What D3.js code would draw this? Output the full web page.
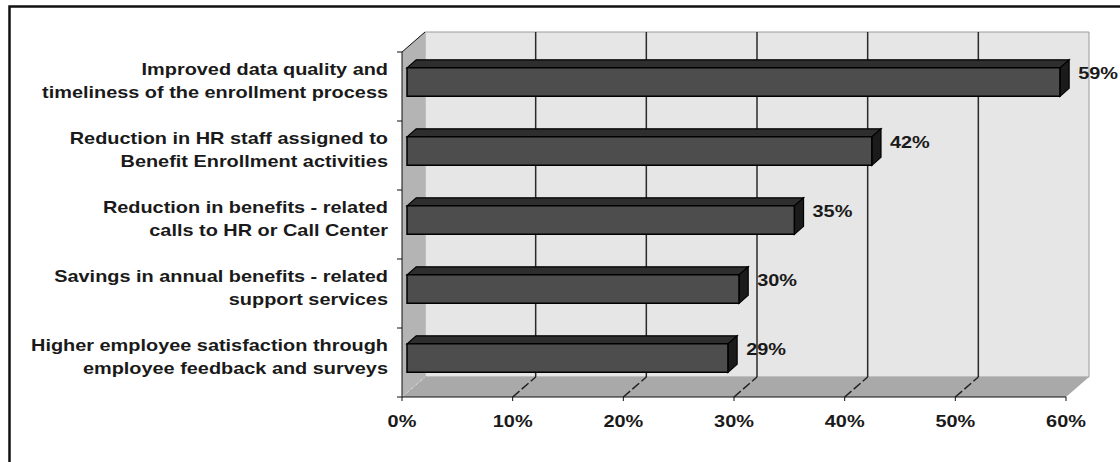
<!DOCTYPE html>
<html>
<head>
<meta charset="utf-8">
<script src="https://cdn.jsdelivr.net/npm/d3@7"></script>
<style>
  body { margin: 0; background: #fff; }
  svg text { font-family: "Liberation Sans", Arial, sans-serif; font-weight: bold; fill: #1a1a1a; }
</style>
</head>
<body>
<div id="chart"></div>
<script>
// data
var categories = [
  ["Improved data quality and", "timeliness of the enrollment process"],
  ["Reduction in HR staff assigned to", "Benefit Enrollment activities"],
  ["Reduction in benefits - related", "calls to HR or Call Center"],
  ["Savings in annual benefits - related", "support services"],
  ["Higher employee satisfaction through", "employee feedback and surveys"]
]
var values = [59, 42, 35, 30, 29]
var xTicks = [0, 10, 20, 30, 40, 50, 60]

var width = 1120, height = 462
var svg = d3.select('#chart').append('svg').attr('width', width).attr('height', height)

// outer frame (left + top only)
svg.append('path').attr('d', 'M9.5,462 L9.5,6.5 L1120,6.5')
  .attr('fill', 'none').attr('stroke', '#111').attr('stroke-width', 2.5)

var plotTop = 52, plotBottom = 397
var x = d3.scaleLinear().domain([0, 60]).range([402, 1066])
var y = d3.scaleBand().domain(d3.range(categories.length)).range([plotTop, plotBottom])
var dx = 23, dy = -20 // depth of the box
var bdx0 = 5, bdy0 = -4.4 // bar front plane offset
var bdx = 9.2, bdy = -8 // bar depth
var barH = 28.5
var sx = 1.17 // horizontal stretch of the text

function poly(pts){ return 'M' + pts.map(function(p){ return p.join(',') }).join('L') + 'Z' }

var x0 = x(0), x1 = x(60)
// back wall
svg.append('path').attr('d', poly([[x0+dx, plotTop+dy], [x1+dx, plotTop+dy], [x1+dx, plotBottom+dy], [x0+dx, plotBottom+dy]]))
  .attr('fill', '#e6e6e6').attr('stroke', '#9a9a9a').attr('stroke-width', 1)
// side wall
svg.append('path').attr('d', poly([[x0, plotTop], [x0+dx, plotTop+dy], [x0+dx, plotBottom+dy], [x0, plotBottom]]))
  .attr('fill', '#b4b4b4').attr('stroke', 'none')
// floor
svg.append('path').attr('d', poly([[x0, plotBottom], [x0+dx, plotBottom+dy], [x1+dx, plotBottom+dy], [x1, plotBottom]]))
  .attr('fill', '#a9a9a9').attr('stroke', 'none')

// gridlines on back wall
svg.selectAll('.grid').data(xTicks.slice(1, -1)).enter().append('line')
  .attr('x1', function(d){ return x(d)+dx }).attr('x2', function(d){ return x(d)+dx })
  .attr('y1', plotTop+dy).attr('y2', plotBottom+dy)
  .attr('stroke', '#2a2a2a').attr('stroke-width', 1.5)
// diagonals on floor
svg.selectAll('.fdiag').data(xTicks.slice(1, -1)).enter().append('line')
  .attr('x1', function(d){ return x(d) }).attr('y1', plotBottom)
  .attr('x2', function(d){ return x(d)+dx }).attr('y2', plotBottom+dy)
  .attr('stroke', '#222').attr('stroke-width', 1.5).attr('stroke-dasharray', '9,3')
svg.append('line').attr('x1', x0).attr('y1', plotBottom).attr('x2', x0+dx).attr('y2', plotBottom+dy)
  .attr('stroke', '#d8d8d8').attr('stroke-width', 1).attr('stroke-dasharray', '3,3')

// axes
svg.append('line').attr('x1', x0).attr('x2', x1).attr('y1', plotBottom).attr('y2', plotBottom).attr('stroke', '#111')
svg.append('line').attr('x1', x0).attr('x2', x0).attr('y1', plotTop).attr('y2', plotBottom).attr('stroke', '#111')
svg.append('line').attr('x1', x0).attr('y1', plotTop).attr('x2', x0+dx).attr('y2', plotTop+dy).attr('stroke', '#111')
svg.selectAll('.xt').data(xTicks).enter().append('line')
  .attr('x1', function(d){ return x(d) }).attr('x2', function(d){ return x(d) })
  .attr('y1', plotBottom).attr('y2', plotBottom+4).attr('stroke', '#111')
svg.selectAll('.yt').data(d3.range(categories.length+1)).enter().append('line')
  .attr('x1', x0-5).attr('x2', x0)
  .attr('y1', function(i){ return plotTop + i*y.step() }).attr('y2', function(i){ return plotTop + i*y.step() })
  .attr('stroke', '#111')

// bars
var bars = svg.selectAll('.bar').data(values).enter().append('g')
bars.each(function(v, i){
  var g = d3.select(this)
  var c = y(i) + y.bandwidth()/2 + bdy0
  var xl = x(0) + bdx0, xr = x(v) + bdx0
  var yt = c - barH/2, yb = c + barH/2
  g.append('path').attr('d', poly([[xl, yt], [xl+bdx, yt+bdy], [xr+bdx, yt+bdy], [xr, yt]]))
    .attr('fill', '#2e2e2e').attr('stroke', '#000').attr('stroke-width', 1.2)
  g.append('path').attr('d', poly([[xr, yt], [xr+bdx, yt+bdy], [xr+bdx, yb+bdy], [xr, yb]]))
    .attr('fill', '#1b1b1b').attr('stroke', '#000').attr('stroke-width', 1.2)
  g.append('path').attr('d', poly([[xl, yt], [xr, yt], [xr, yb], [xl, yb]]))
    .attr('fill', '#4d4d4d').attr('stroke', '#000').attr('stroke-width', 1.5)
  g.append('text')
    .attr('transform', 'translate(' + (xr + bdx + 9) + ',' + (c - 3) + ') scale(' + sx + ',1)')
    .attr('font-size', 17)
    .text(v + '%')
})

// category labels
svg.selectAll('.cat').data(categories).enter().append('g')
  .each(function(lines, i){
    var c = y(i) + y.bandwidth()/2 + bdy0
    var g = d3.select(this)
    lines.forEach(function(t, j){
      g.append('text')
        .attr('transform', 'translate(388,' + (c - 7 + j*23) + ') scale(' + sx + ',1)')
        .attr('text-anchor', 'end').attr('font-size', 17)
        .text(t)
    })
  })

// x tick labels
svg.selectAll('.xl').data(xTicks).enter().append('text')
  .attr('transform', function(d){ return 'translate(' + x(d) + ',427) scale(' + sx + ',1)' })
  .attr('text-anchor', 'middle').attr('font-size', 17)
  .text(function(d){ return d + '%' })
</script>
</body>
</html>
